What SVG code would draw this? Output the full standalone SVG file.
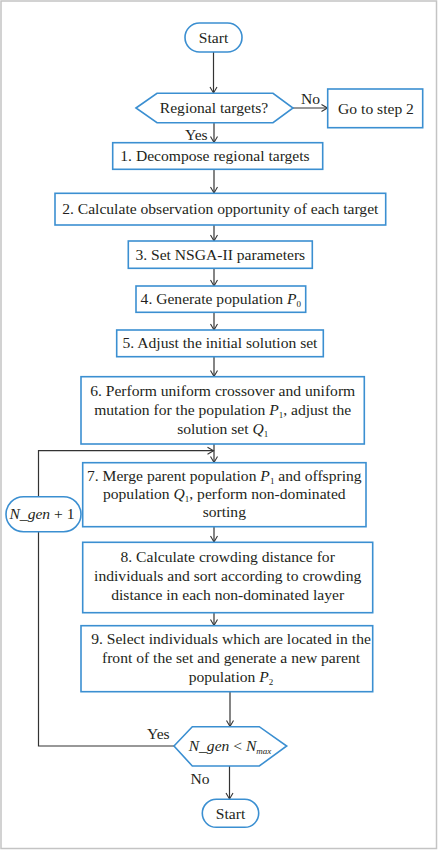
<svg xmlns="http://www.w3.org/2000/svg" width="439" height="850" viewBox="0 0 439 850">
<style>
.n{fill:#fff;stroke:#3b8fd1;stroke-width:1.6}
.t{font-family:"Liberation Serif","Times New Roman",serif;font-size:15.6px;fill:#231f20;text-anchor:middle}
.l{font-family:"Liberation Serif","Times New Roman",serif;font-size:15.6px;fill:#231f20}
.c{fill:none;stroke:#333;stroke-width:1.2}
.i{font-style:italic}
.s{font-size:9px}
</style>
<defs>
<marker id="a" markerUnits="userSpaceOnUse" markerWidth="10" markerHeight="10" refX="7" refY="5" orient="auto">
<path d="M1,1.5 L7,5 L1,8.5" fill="none" stroke="#333" stroke-width="1.1"/>
</marker>
</defs>
<rect x="1" y="1" width="435.5" height="847.5" fill="#fff" stroke="#c4c4c4" stroke-width="1.5"/>
<g id="connectors">
<line class="c" x1="213.5" y1="52" x2="213.5" y2="93" marker-end="url(#a)"/>
<line class="c" x1="293" y1="108" x2="327.5" y2="108" marker-end="url(#a)"/>
<line class="c" x1="214" y1="123" x2="214" y2="142.5" marker-end="url(#a)"/>
<line class="c" x1="214" y1="169.5" x2="214" y2="193" marker-end="url(#a)"/>
<line class="c" x1="214" y1="225" x2="214" y2="241" marker-end="url(#a)"/>
<line class="c" x1="214" y1="268.5" x2="214" y2="286" marker-end="url(#a)"/>
<line class="c" x1="214" y1="312.5" x2="214" y2="330" marker-end="url(#a)"/>
<line class="c" x1="214" y1="357" x2="214" y2="376.5" marker-end="url(#a)"/>
<line class="c" x1="214" y1="444" x2="214" y2="462.5" marker-end="url(#a)"/>
<path class="c" d="M174,746 H38.5 V450.7 H213.5" marker-end="url(#a)"/>
<line class="c" x1="214" y1="527" x2="214" y2="542" marker-end="url(#a)"/>
<line class="c" x1="214" y1="613" x2="214" y2="625.5" marker-end="url(#a)"/>
<line class="c" x1="230" y1="692" x2="230" y2="726.5" marker-end="url(#a)"/>
<line class="c" x1="229.5" y1="766" x2="229.5" y2="799" marker-end="url(#a)"/>
<text class="l" x="301" y="104">No</text>
<text class="l" x="185" y="140">Yes</text>
<text class="l" x="147" y="739">Yes</text>
<text class="l" x="190.5" y="784">No</text>
</g>
<g id="start">
<rect class="n" x="185" y="23" width="57" height="29" rx="14.5"/>
<text class="t" x="213.5" y="43">Start</text>
</g>
<g id="regional">
<polygon class="n" points="136,108 157,93.3 273,93.3 293,108 273,122.7 157,122.7"/>
<text class="t" x="214" y="113">Regional targets?</text>
</g>
<g id="goto2">
<rect class="n" x="327.7" y="89" width="95" height="38.7"/>
<text class="t" x="376" y="114">Go to step 2</text>
</g>
<g id="step1">
<rect class="n" x="112.7" y="142.7" width="210" height="26.6"/>
<text class="t" x="215" y="160.5">1. Decompose regional targets</text>
</g>
<g id="step2">
<rect class="n" x="55" y="193.3" width="330.7" height="31.7"/>
<text class="t" x="220.3" y="214">2. Calculate observation opportunity of each target</text>
</g>
<g id="step3">
<rect class="n" x="128.3" y="241" width="184" height="27.3"/>
<text class="t" x="220.3" y="259.5">3. Set NSGA-II parameters</text>
</g>
<g id="step4">
<rect class="n" x="136" y="286" width="169.7" height="26.3"/>
<text class="t" x="220.8" y="303.5">4. Generate population <tspan class="i">P</tspan><tspan class="s" dy="3">0</tspan></text>
</g>
<g id="step5">
<rect class="n" x="116.7" y="330" width="206.6" height="26.7"/>
<text class="t" x="220" y="348">5. Adjust the initial solution set</text>
</g>
<g id="step6">
<rect class="n" x="81" y="376.7" width="283.3" height="67.3"/>
<text class="t" x="222.7" y="395.5">6. Perform uniform crossover and uniform</text>
<text class="t" x="222.7" y="414.5">mutation for the population <tspan class="i">P</tspan><tspan class="s" dy="3">1</tspan><tspan dy="-3">, adjust the</tspan></text>
<text class="t" x="222.7" y="433.5">solution set <tspan class="i">Q</tspan><tspan class="s" dy="3">1</tspan></text>
</g>
<g id="step7">
<rect class="n" x="82.7" y="462.7" width="283.3" height="64"/>
<text class="t" x="224.3" y="480.5">7. Merge parent population <tspan class="i">P</tspan><tspan class="s" dy="3">1</tspan><tspan dy="-3"> and offspring</tspan></text>
<text class="t" x="224.3" y="499">population <tspan class="i">Q</tspan><tspan class="s" dy="3">1</tspan><tspan dy="-3">, perform non-dominated</tspan></text>
<text class="t" x="224.3" y="517">sorting</text>
</g>
<g id="ngen1">
<rect class="n" x="6" y="496.7" width="75" height="35" rx="17.5"/>
<text class="t" x="42" y="519"><tspan class="i">N_gen</tspan> + 1</text>
</g>
<g id="step8">
<rect class="n" x="82.7" y="542.3" width="290" height="70.4"/>
<text class="t" x="227.7" y="562">8. Calculate crowding distance for</text>
<text class="t" x="227.7" y="581">individuals and sort according to crowding</text>
<text class="t" x="227.7" y="600">distance in each non-dominated layer</text>
</g>
<g id="step9">
<rect class="n" x="81" y="625.7" width="291.7" height="66"/>
<text class="t" x="231" y="644">9. Select individuals which are located in the</text>
<text class="t" x="231" y="663">front of the set and generate a new parent</text>
<text class="t" x="231" y="682">population <tspan class="i">P</tspan><tspan class="s" dy="3">2</tspan></text>
</g>
<g id="check">
<polygon class="n" points="174,746 192.3,726.7 259.3,726.7 286.7,746 259.3,766 192.3,766"/>
<text class="t" x="230" y="751"><tspan class="i">N_gen</tspan> &lt; <tspan class="i">N</tspan><tspan class="i s" dy="3">max</tspan></text>
</g>
<g id="end">
<rect class="n" x="202.3" y="799.3" width="56.4" height="28" rx="14"/>
<text class="t" x="230.5" y="818.5">Start</text>
</g>
</svg>
